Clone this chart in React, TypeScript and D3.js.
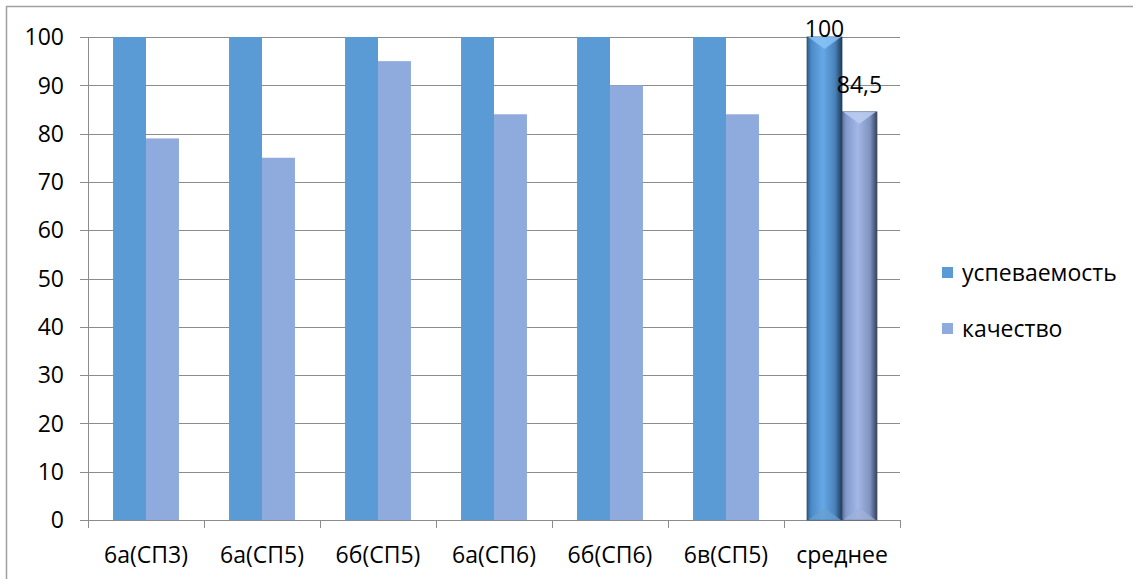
import React, { useEffect, useRef } from 'react';
import * as d3 from 'd3';

const categories = ['6а(СП3)', '6а(СП5)', '6б(СП5)', '6а(СП6)', '6б(СП6)', '6в(СП5)', 'среднее'];
const uspevaemost = [100, 100, 100, 100, 100, 100, 100];
const kachestvo = [79, 75, 95, 84, 90, 84, 84.5];
const seriesNames = ['успеваемость', 'качество'];
const yTicks = [0, 10, 20, 30, 40, 50, 60, 70, 80, 90, 100];

const W = 1133;
const H = 579;
const FONT = '"Open Sans", sans-serif';
const FS = 23;
const colors = ['#5b9bd5', '#8faadc'];

export default function App() {
  const svgRef = useRef<SVGSVGElement>(null);

  useEffect(() => {
    if (!svgRef.current) return;
    const svg = d3.select(svgRef.current);
    svg.selectAll('*').remove();

    const left = 88, right = 900, top = 37, bottom = 520;

    // chart frame lines
    svg.append('line').attr('x1', 6).attr('x2', W).attr('y1', 6.5).attr('y2', 6.5)
      .attr('stroke', '#a0a0a0').attr('stroke-width', 1.5);
    svg.append('line').attr('x1', 6.5).attr('x2', 6.5).attr('y1', 6).attr('y2', H)
      .attr('stroke', '#a0a0a0').attr('stroke-width', 1.5);

    const x = d3.scaleBand().domain(categories).range([left, right]).paddingInner(0).paddingOuter(0);
    const y = d3.scaleLinear().domain([0, 100]).range([bottom, top]);
    const inner = d3.scaleBand().domain(seriesNames).range([0, x.bandwidth()]).paddingOuter(0.76).paddingInner(0);

    const defs = svg.append('defs');
    const mkGrad = (id: string, stops: [number, string][]) => {
      const g = defs.append('linearGradient').attr('id', id).attr('x1', 0).attr('x2', 1).attr('y1', 0).attr('y2', 0);
      stops.forEach(([o, c]) => g.append('stop').attr('offset', o).attr('stop-color', c));
    };
    mkGrad('g0', [[0, '#2d5f8f'], [0.12, '#4b8ac6'], [0.45, '#66a8e6'], [0.8, '#4a82ba'], [1, '#1e3a58']]);
    mkGrad('g1', [[0, '#5a6f9a'], [0.12, '#8299cc'], [0.45, '#a3b8e6'], [0.8, '#7f93c0'], [1, '#36425e']]);

    // gridlines
    svg.append('g').selectAll('line').data(yTicks).join('line')
      .attr('x1', left - 8).attr('x2', right)
      .attr('y1', d => Math.round(y(d)) + 0.5).attr('y2', d => Math.round(y(d)) + 0.5)
      .attr('stroke', '#8c8c8c').attr('stroke-width', 1);

    // y axis line
    svg.append('line').attr('x1', left + 0.5).attr('x2', left + 0.5).attr('y1', top).attr('y2', bottom)
      .attr('stroke', '#8c8c8c');

    // y labels
    svg.append('g').selectAll('text').data(yTicks).join('text')
      .attr('x', 64).attr('y', d => y(d)).attr('dy', '0.36em')
      .attr('text-anchor', 'end').attr('font-family', FONT).attr('font-size', FS).attr('fill', '#000')
      .text(d => d);

    // x ticks
    const bounds = d3.range(categories.length + 1).map(i => left + i * x.bandwidth());
    svg.append('g').selectAll('line').data(bounds).join('line')
      .attr('x1', d => Math.round(d) + 0.5).attr('x2', d => Math.round(d) + 0.5)
      .attr('y1', bottom).attr('y2', bottom + 8)
      .attr('stroke', '#8c8c8c');

    svg.append('g').selectAll('text').data(categories).join('text')
      .attr('x', d => (x(d) as number) + x.bandwidth() / 2).attr('y', 563)
      .attr('text-anchor', 'middle').attr('font-family', FONT).attr('font-size', FS).attr('fill', '#000')
      .text(d => d);

    const series = [uspevaemost, kachestvo];
    const last = categories.length - 1;
    series.forEach((vals, si) => {
      const bx = (c: string) => (x(c) as number) + (inner(seriesNames[si]) as number);
      const bw = inner.bandwidth();
      const plain = categories.filter((_, i) => i !== last);
      svg.append('g').selectAll('rect').data(plain).join('rect')
        .attr('x', c => bx(c)).attr('width', bw)
        .attr('y', c => y(vals[categories.indexOf(c)]))
        .attr('height', c => bottom - y(vals[categories.indexOf(c)]))
        .attr('fill', colors[si]);

      // 3D styled average bar
      const c = categories[last];
      const x0 = bx(c) - (si === 0 ? 2 : 0), w = bw + 2;
      const y0 = y(vals[last]);
      const g = svg.append('g');
      g.append('rect').attr('x', x0).attr('y', y0).attr('width', w).attr('height', bottom - y0)
        .attr('fill', `url(#g${si})`).attr('stroke', si === 0 ? '#27486b' : '#3d4862').attr('stroke-width', 0.8);
      const bev = 12;
      g.append('path')
        .attr('d', `M${x0 + 1},${y0} L${x0 + w - 1},${y0} L${x0 + w / 2},${y0 + bev} Z`)
        .attr('fill', si === 0 ? '#86c3f7' : '#bccdf2').attr('opacity', 0.85);
      g.append('path')
        .attr('d', `M${x0 + 1},${bottom} L${x0 + w - 1},${bottom} L${x0 + w / 2},${bottom - bev} Z`)
        .attr('fill', si === 0 ? '#6a9fd0' : '#9fb0d8').attr('opacity', 0.7);
      g.append('text')
        .attr('x', x0 + w / 2).attr('y', y0 - (si === 0 ? 0 : 19))
        .attr('text-anchor', 'middle').attr('font-family', FONT).attr('font-size', FS).attr('fill', '#000')
        .text(String(vals[last]).replace('.', ','));
    });

    // legend
    const lg = svg.append('g').selectAll('g').data(seriesNames).join('g')
      .attr('transform', (_, i) => `translate(942, ${267 + i * 56})`);
    lg.append('rect').attr('width', 11).attr('height', 11).attr('fill', (_, i) => colors[i]);
    lg.append('text').attr('x', 20).attr('y', 6).attr('dy', '0.36em')
      .attr('font-family', FONT).attr('font-size', FS).attr('fill', '#000')
      .text(d => d);
  }, []);

  return (
    <div style={{ position: 'fixed', left: 0, top: 0 }}>
      <svg ref={svgRef} width={W} height={H} style={{ display: 'block', background: '#fff' }} />
    </div>
  );
}
